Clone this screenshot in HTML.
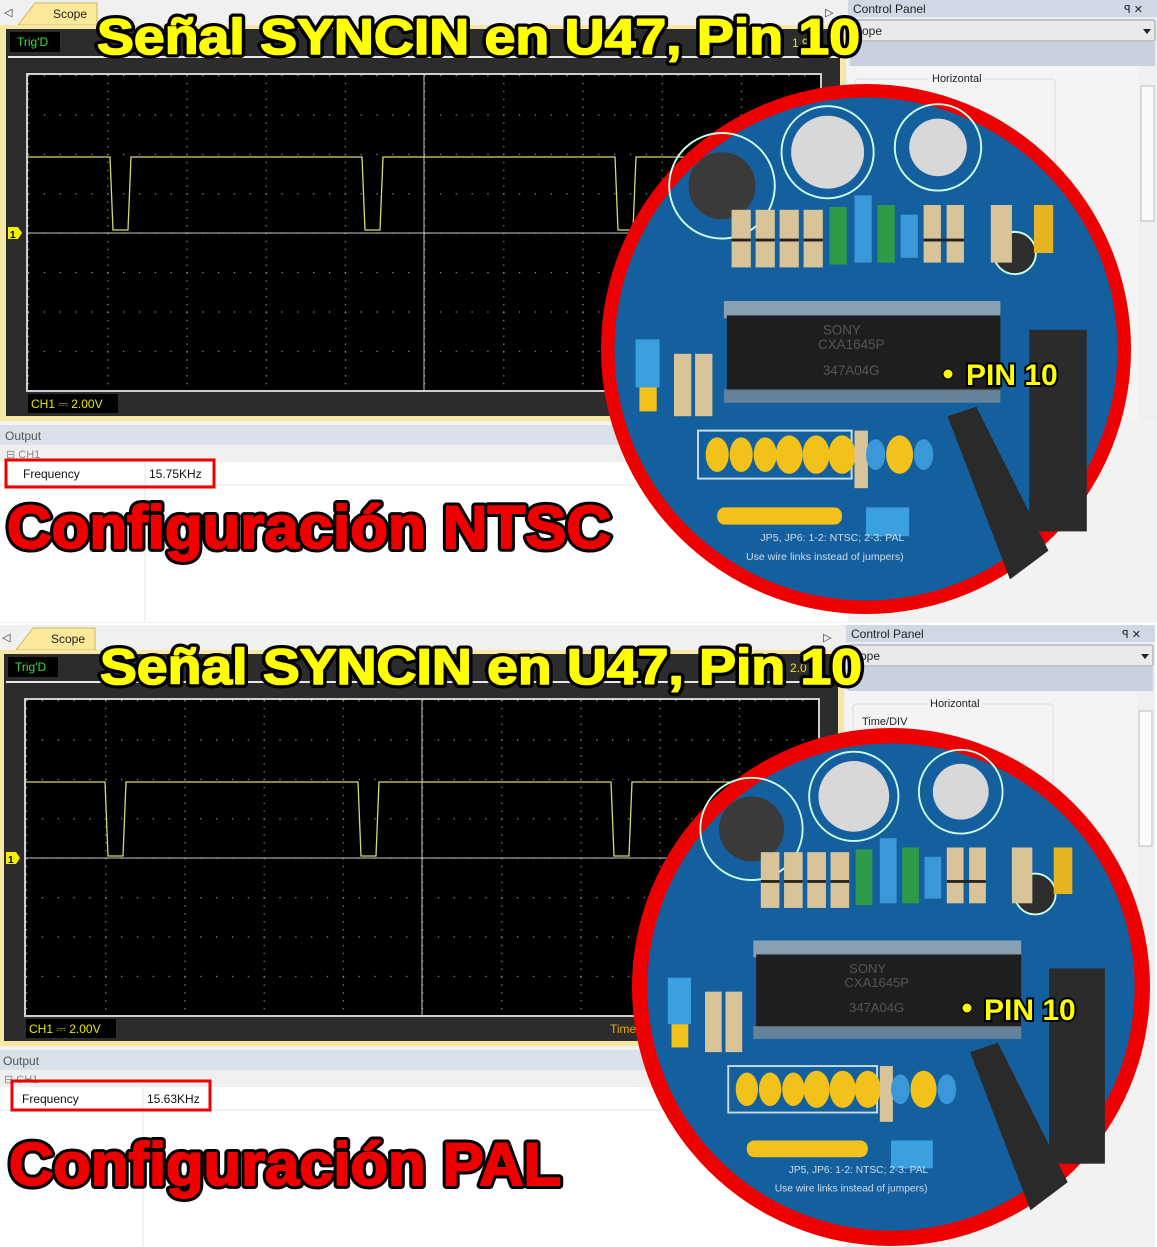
<!DOCTYPE html>
<html><head><meta charset="utf-8"><style>html,body{margin:0;padding:0;background:#fff}svg{display:block}</style></head>
<body>
<svg width="1157" height="1247" viewBox="0 0 1157 1247" xmlns="http://www.w3.org/2000/svg" font-family="Liberation Sans, sans-serif">
<defs>
<pattern id="gv" x="28" y="75" width="79.2" height="7.9" patternUnits="userSpaceOnUse"><rect x="0" y="0" width="1.2" height="1.2" fill="#9a9a9a"/></pattern>
<pattern id="gh" x="28" y="75" width="15.84" height="39.4" patternUnits="userSpaceOnUse"><rect x="0" y="0" width="1.2" height="1.2" fill="#9a9a9a"/></pattern>
<g id="half">
 <rect x="0" y="0" width="1157" height="623" fill="#f2f2f2"/>
 <rect x="0" y="0" width="848" height="25" fill="#f0f0f0"/>
 <text x="4" y="16" font-size="11" fill="#333">◁</text>
 <text x="825" y="16" font-size="11" fill="#333">▷</text>
 <path d="M18 25 L35 3 L97 3 L97 25 Z" fill="#fde99a" stroke="#c9b66a"/>
 <text x="53" y="18" font-size="12" fill="#222">Scope</text>
 <rect x="0" y="25" width="846" height="396" fill="#f6e7a4"/>
 <rect x="6" y="29" width="834" height="387" fill="#2c2c2c"/>
 <rect x="10" y="32" width="50" height="20" fill="#000"/>
 <text x="17" y="46" font-size="12" fill="#3ddc3d">Trig'D</text>
 <rect x="8" y="56" width="830" height="2" fill="#e8e8e8"/>
 <rect x="27" y="74" width="794" height="317" fill="#000" stroke="#cfcfcf" stroke-width="2"/>
 <rect x="28" y="75" width="792" height="315" fill="url(#gv)"/>
 <rect x="28" y="75" width="792" height="315" fill="url(#gh)"/>
 <line x1="28" y1="233" x2="820" y2="233" stroke="#c8c8c8" stroke-width="1"/>
 <line x1="424" y1="75" x2="424" y2="390" stroke="#c8c8c8" stroke-width="1"/>
 <path d="M8 227 h10 l4 6 l-4 6 h-10 z" fill="#f5f000"/>
 <text x="10" y="238" font-size="10" font-weight="bold" fill="#000">1</text>
 <rect x="28" y="394" width="90" height="19" fill="#000"/>
 <text x="31" y="408" font-size="12" fill="#e8e800">CH1 ⎓  2.00V</text>
 <rect x="0" y="425" width="848" height="20" fill="#d8e0ea"/>
 <text x="5" y="440" font-size="12" fill="#555">Output</text>
 <rect x="0" y="445" width="848" height="17" fill="#efefef"/>
 <text x="6" y="458" font-size="11" fill="#888">⊟  CH1</text>
 <rect x="0" y="462" width="848" height="160" fill="#fff"/>
 <line x1="145" y1="462" x2="145" y2="622" stroke="#e4e4e4"/>
 <line x1="0" y1="485" x2="848" y2="485" stroke="#e4e4e4"/>
 <rect x="848" y="0" width="309" height="421" fill="#e9edf3"/>
 <rect x="848" y="0" width="309" height="17" fill="#cfd8e4"/>
 <text x="853" y="13" font-size="12" fill="#222">Control Panel</text>
 <text x="1124" y="13" font-size="11" fill="#222">ꟼ  ✕</text>
 <rect x="850" y="20" width="305" height="21" fill="#eaeaea" stroke="#999" rx="2"/>
 <text x="856" y="35" font-size="12" fill="#222">cope</text>
 <path d="M1143 29 h8 l-4 5 z" fill="#222"/>
 <rect x="850" y="42" width="305" height="24" fill="#c9d1e0"/>
 <rect x="848" y="66" width="291" height="355" fill="#f4f4f4"/>
 <rect x="855" y="79" width="200" height="330" fill="none" stroke="#dcdcdc" rx="3"/>
 <rect x="928" y="71" width="56" height="14" fill="#f4f4f4"/>
 <text x="932" y="82" font-size="11" fill="#222">Horizontal</text>
 <rect x="1139" y="66" width="18" height="355" fill="#f0f0f0"/>
 <rect x="1141" y="86" width="13" height="135" fill="#fafafa" stroke="#bbb"/>
</g>
<g id="pcb">
 <circle r="262" fill="#14609e"/>
 <circle cx="-150" cy="-170" r="55" fill="none" stroke="#cfe" stroke-width="2"/>
 <circle cx="-150" cy="-170" r="35" fill="#3a3a3a"/>
 <circle cx="-40" cy="-205" r="38" fill="#d8d8d8"/>
 <circle cx="-40" cy="-205" r="48" fill="none" stroke="#cfe" stroke-width="2"/>
 <circle cx="75" cy="-210" r="30" fill="#d8d8d8"/>
 <circle cx="75" cy="-210" r="45" fill="none" stroke="#cfe" stroke-width="2"/>
 <circle cx="155" cy="-100" r="22" fill="#2e2e2e" stroke="#cfe" stroke-width="2"/>
 <g fill="#d9c49a"><rect x="-140" y="-145" width="20" height="60"/><rect x="-115" y="-145" width="20" height="60"/><rect x="-90" y="-145" width="20" height="60"/><rect x="-65" y="-145" width="20" height="60"/><rect x="60" y="-150" width="18" height="60"/><rect x="84" y="-150" width="18" height="60"/><rect x="130" y="-150" width="22" height="60"/></g>
 <g fill="#222"><rect x="-140" y="-115" width="20" height="3"/><rect x="-115" y="-115" width="20" height="3"/><rect x="-90" y="-115" width="20" height="3"/><rect x="-65" y="-115" width="20" height="3"/><rect x="60" y="-115" width="42" height="3"/></g>
 <rect x="-38" y="-148" width="18" height="60" fill="#2e9a4a"/>
 <rect x="-12" y="-160" width="18" height="70" fill="#3b98d8"/>
 <rect x="12" y="-150" width="18" height="60" fill="#2e9a4a"/>
 <rect x="36" y="-140" width="18" height="45" fill="#3b98d8"/>
 <rect x="175" y="-150" width="20" height="50" fill="#e6b422"/>
 <rect x="-148" y="-50" width="288" height="18" fill="#bbb" opacity="0.7"/>
 <rect x="-145" y="-35" width="285" height="78" fill="#1e1e1e"/>
 <rect x="-148" y="42" width="288" height="14" fill="#999" opacity="0.6"/>
 <text x="-45" y="-15" font-size="14" fill="#555">SONY</text>
 <text x="-50" y="0" font-size="14" fill="#555">CXA1645P</text>
 <text x="-45" y="27" font-size="14" fill="#555">347A04G</text>
 <rect x="-240" y="-10" width="25" height="50" fill="#3aa0e0"/>
 <rect x="-236" y="40" width="18" height="25" fill="#f3c21a"/>
 <rect x="-200" y="5" width="18" height="65" fill="#d9c49a"/>
 <rect x="-178" y="5" width="18" height="65" fill="#d9c49a"/>
 <rect x="-175" y="85" width="160" height="50" fill="#14609e" stroke="#cde" stroke-width="2"/>
 <g fill="#f3c21a"><ellipse cx="-155" cy="110" rx="12" ry="18"/><ellipse cx="-130" cy="110" rx="12" ry="18"/><ellipse cx="-105" cy="110" rx="12" ry="18"/><ellipse cx="-80" cy="110" rx="14" ry="20"/><ellipse cx="-52" cy="110" rx="14" ry="20"/><ellipse cx="-25" cy="110" rx="14" ry="20"/><ellipse cx="35" cy="110" rx="14" ry="20"/></g>
 <rect x="-12" y="85" width="14" height="60" fill="#d9c49a"/>
 <ellipse cx="10" cy="110" rx="10" ry="16" fill="#3b98d8"/>
 <ellipse cx="60" cy="110" rx="10" ry="16" fill="#3b98d8"/>
 <rect x="-155" y="165" width="130" height="18" rx="8" fill="#f3c21a"/>
 <rect x="0" y="165" width="45" height="30" fill="#3aa0e0"/>
 <path d="M85 70 L115 60 L190 210 L150 240 Z" fill="#2a2a2a"/>
 <rect x="170" y="-20" width="60" height="210" fill="#2b2b2b"/>
 <text x="-110" y="200" font-size="11" fill="#cde">JP5, JP6: 1-2: NTSC; 2-3: PAL</text>
 <text x="-125" y="220" font-size="11" fill="#cde">Use wire links instead of jumpers)</text>
</g>
</defs>

<use href="#half"/>
<path d="M28 157 H110 L113 230 H128 L131 157 H362 L365 230 H380 L383 157 H615 L618 230 H633 L636 157 H820" fill="none" stroke="#d8d870" stroke-width="1.3"/>
<text x="792" y="47" font-size="12" fill="#e8e800">1.9</text>
<rect x="6" y="460" width="208" height="27" fill="none" stroke="#e00" stroke-width="3"/>
<text x="23" y="478" font-size="12" fill="#111">Frequency</text>
<text x="149" y="478" font-size="12" fill="#111">15.75KHz</text>

<g transform="translate(-2,625)">
 <use href="#half"/>
 <path d="M28 157 H107 L110 231 H125 L128 157 H360 L363 231 H378 L381 157 H613 L616 231 H631 L634 157 H820" fill="none" stroke="#d8d870" stroke-width="1.3"/>
 <text x="792" y="47" font-size="12" fill="#e8e800">2.0</text>
 <text x="612" y="408" font-size="12" fill="#e8a800">Time</text>
 <text x="864" y="100" font-size="11" fill="#222">Time/DIV</text>
 <rect x="14" y="456" width="198" height="29" fill="none" stroke="#e00" stroke-width="3"/>
 <text x="24" y="478" font-size="12" fill="#111">Frequency</text>
 <text x="149" y="478" font-size="12" fill="#111">15.63KHz</text>
</g>

<g font-weight="bold" stroke-linejoin="round">
 <g stroke="#000" stroke-width="8">
 <text x="97" y="54" font-size="50" fill="#000" textLength="763" lengthAdjust="spacingAndGlyphs">Señal SYNCIN en U47, Pin 10</text>
 <text x="100" y="684" font-size="50" fill="#000" textLength="762" lengthAdjust="spacingAndGlyphs">Señal SYNCIN en U47, Pin 10</text>
 <text x="7" y="548" font-size="60" fill="#000" textLength="604" lengthAdjust="spacingAndGlyphs">Configuración NTSC</text>
 <text x="9" y="1185" font-size="60" fill="#000" textLength="552" lengthAdjust="spacingAndGlyphs">Configuración PAL</text>
 </g>
 <text x="97" y="54" font-size="50" fill="#ffff00" stroke="#ffff00" stroke-width="1.6" textLength="763" lengthAdjust="spacingAndGlyphs">Señal SYNCIN en U47, Pin 10</text>
 <text x="100" y="684" font-size="50" fill="#ffff00" stroke="#ffff00" stroke-width="1.6" textLength="762" lengthAdjust="spacingAndGlyphs">Señal SYNCIN en U47, Pin 10</text>
 <text x="7" y="548" font-size="60" fill="#ee0000" stroke="#ee0000" stroke-width="2" textLength="604" lengthAdjust="spacingAndGlyphs">Configuración NTSC</text>
 <text x="9" y="1185" font-size="60" fill="#ee0000" stroke="#ee0000" stroke-width="2" textLength="552" lengthAdjust="spacingAndGlyphs">Configuración PAL</text>
</g>

<g transform="translate(866,349)">
 <circle r="265" fill="#ee0000"/>
 <use href="#pcb" transform="scale(0.96)"/>
 <circle cx="82" cy="25" r="5" fill="#ffff00" stroke="#000"/>
 <text x="100" y="36" font-size="30" font-weight="bold" fill="#ffff00" stroke="#000" stroke-width="4" paint-order="stroke">PIN 10</text>
</g>
<g transform="translate(891,987)">
 <circle r="259" fill="#ee0000"/>
 <use href="#pcb" transform="scale(0.93)"/>
 <circle cx="76" cy="21" r="5" fill="#ffff00" stroke="#000"/>
 <text x="93" y="33" font-size="30" font-weight="bold" fill="#ffff00" stroke="#000" stroke-width="4" paint-order="stroke">PIN 10</text>
</g>
</svg>
</body></html>
